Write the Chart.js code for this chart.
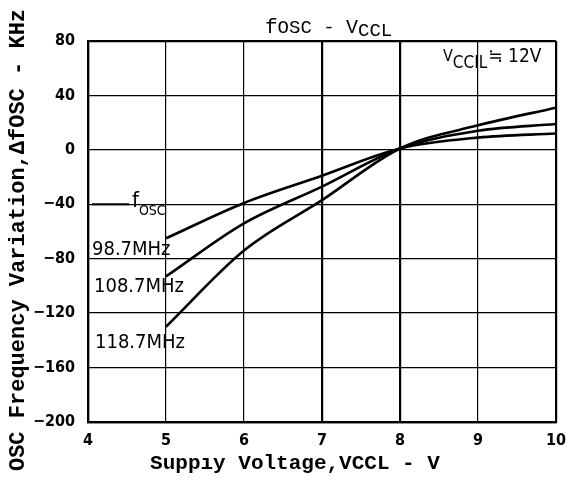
<!DOCTYPE html>
<html lang="en">
<head>
  <meta charset="UTF-8">
  <title>fOSC - VCCL</title>
  <script src="https://cdn.jsdelivr.net/npm/chart.js"></script>
  <style>
    html, body { margin: 0; padding: 0; background: #fff; }
    #wrap { width: 568px; height: 481px; position: relative; }
  </style>
</head>
<body>
  <div id="wrap"><canvas id="grafico"></canvas></div>

  <script>
    // supply voltage VCCL (V)
    const voltages = [5, 6, 7, 8, 9, 10];
    // frequency variation (kHz) for each oscillator frequency
    const f98 = [-65, -39, -19, 1, 9, 12];
    const f108 = [-93, -54, -27, 1, 14, 19];
    const f118 = [-130, -74, -37, 1, 18, 31];
    const xTicks = [4, 5, 6, 7, 8, 9, 10];
    const yTicks = [80, 40, 0, -40, -80, -120, -160, -200];

    const pts = arr => voltages.map((v, i) => ({ x: v, y: arr[i] }));
    const serie = (label, arr) => ({
      label, data: pts(arr),
      borderColor: '#000', borderWidth: 2.6,
      pointRadius: 0, fill: false,
      cubicInterpolationMode: 'monotone'
    });

    const cond = '"DejaVu Sans Condensed", "Liberation Sans", Arial, sans-serif';
    const mono = '"Liberation Mono", "DejaVu Sans Mono", monospace';

    // main text + subscript, returns end x
    function subText(ctx, x, y, main, sub, font, size, subSize, drop) {
      ctx.font = size + 'px ' + font;
      ctx.fillText(main, x, y);
      const w = ctx.measureText(main).width;
      ctx.font = subSize + 'px ' + font;
      ctx.fillText(sub, x + w, y + drop);
      return x + w + ctx.measureText(sub).width;
    }

    const textos = {
      id: 'textos',
      afterDraw(chart) {
        const { ctx, scales: { x, y } } = chart;
        ctx.save();
        ctx.fillStyle = '#000';
        ctx.strokeStyle = '#000';
        ctx.textBaseline = 'alphabetic';
        ctx.textAlign = 'left';

        // title
        let e = subText(ctx, 265, 33, 'f', 'OSC', mono, 21, 19, 0);
        ctx.font = '19px ' + mono;
        ctx.fillText(' - ', e, 33);
        e += ctx.measureText(' - ').width;
        subText(ctx, e, 33, 'V', 'CCL', mono, 20, 19, 3);

        // VCCL note
        e = subText(ctx, 443, 61, 'V', 'CCIL', cond, 16, 17, 7);
        ctx.font = '19px ' + cond;
        ctx.fillText('\u2252 12V', e + 1, 62);

        // curve labels
        const yl = y.getPixelForValue(-40);
        ctx.lineWidth = 2;
        ctx.beginPath();
        ctx.moveTo(92, yl);
        ctx.lineTo(129, yl);
        ctx.stroke();
        subText(ctx, 132, 207, 'f', 'OSC', cond, 22, 14, 8);
        ctx.font = '20px ' + cond;
        ctx.fillText('98.7MHz', 92, 255);
        ctx.fillText('108.7MHz', 94, 292);
        ctx.fillText('118.7MHz', 95, 348);

        // axis titles
        ctx.font = 'bold 21px ' + mono;
        ctx.textAlign = 'center';
        ctx.fillText('Supp\u0131y Voltage,VCCL - V', 295, 469);
        ctx.font = 'bold 22px ' + mono;
        ctx.translate(24, 240);
        ctx.rotate(-Math.PI / 2);
        ctx.fillText('OSC Frequency Variation,\u0394fOSC - KHz', 0, 0);
        ctx.restore();
      }
    };

    const ctx = document.getElementById('grafico').getContext('2d');
    new Chart(ctx, {
      type: 'line',
      data: {
        datasets: [serie('98.7MHz', f98), serie('108.7MHz', f108), serie('118.7MHz', f118)]
      },
      options: {
        responsive: true,
        maintainAspectRatio: false,
        animation: false,
        layout: { padding: { left: 0, top: 41, right: 12, bottom: 0 } },
        plugins: { legend: { display: false }, tooltip: { enabled: false } },
        scales: {
          x: {
            type: 'linear', min: 4, max: 10,
            afterFit: s => { s.height = 59; s.paddingLeft = 0; s.paddingRight = 0; },
            afterBuildTicks: s => { s.ticks = xTicks.map(v => ({ value: v })); },
            grid: {
              color: '#000',
              lineWidth: c => [4, 7, 8, 10].includes(c.tick.value) ? 2.2 : 1.2,
              drawTicks: false
            },
            border: { color: '#000', width: 2.2 },
            ticks: { color: '#000', padding: 9, font: { family: cond, size: 16, weight: 'bold' } }
          },
          y: {
            min: -200, max: 80,
            afterFit: s => { s.width = 88; s.paddingTop = 0; s.paddingBottom = 0; },
            afterBuildTicks: s => { s.ticks = yTicks.map(v => ({ value: v })); },
            grid: {
              color: '#000',
              lineWidth: c => [80, -200].includes(c.tick.value) ? 2.2 : 1.3,
              drawTicks: false
            },
            border: { color: '#000', width: 2.2 },
            ticks: {
              color: '#000', padding: 13,
              font: { family: cond, size: 16, weight: 'bold' },
              callback: v => v < 0 ? '\u2212' + Math.abs(v) : String(v)
            }
          }
        }
      },
      plugins: [textos]
    });
  </script>
</body>
</html>
